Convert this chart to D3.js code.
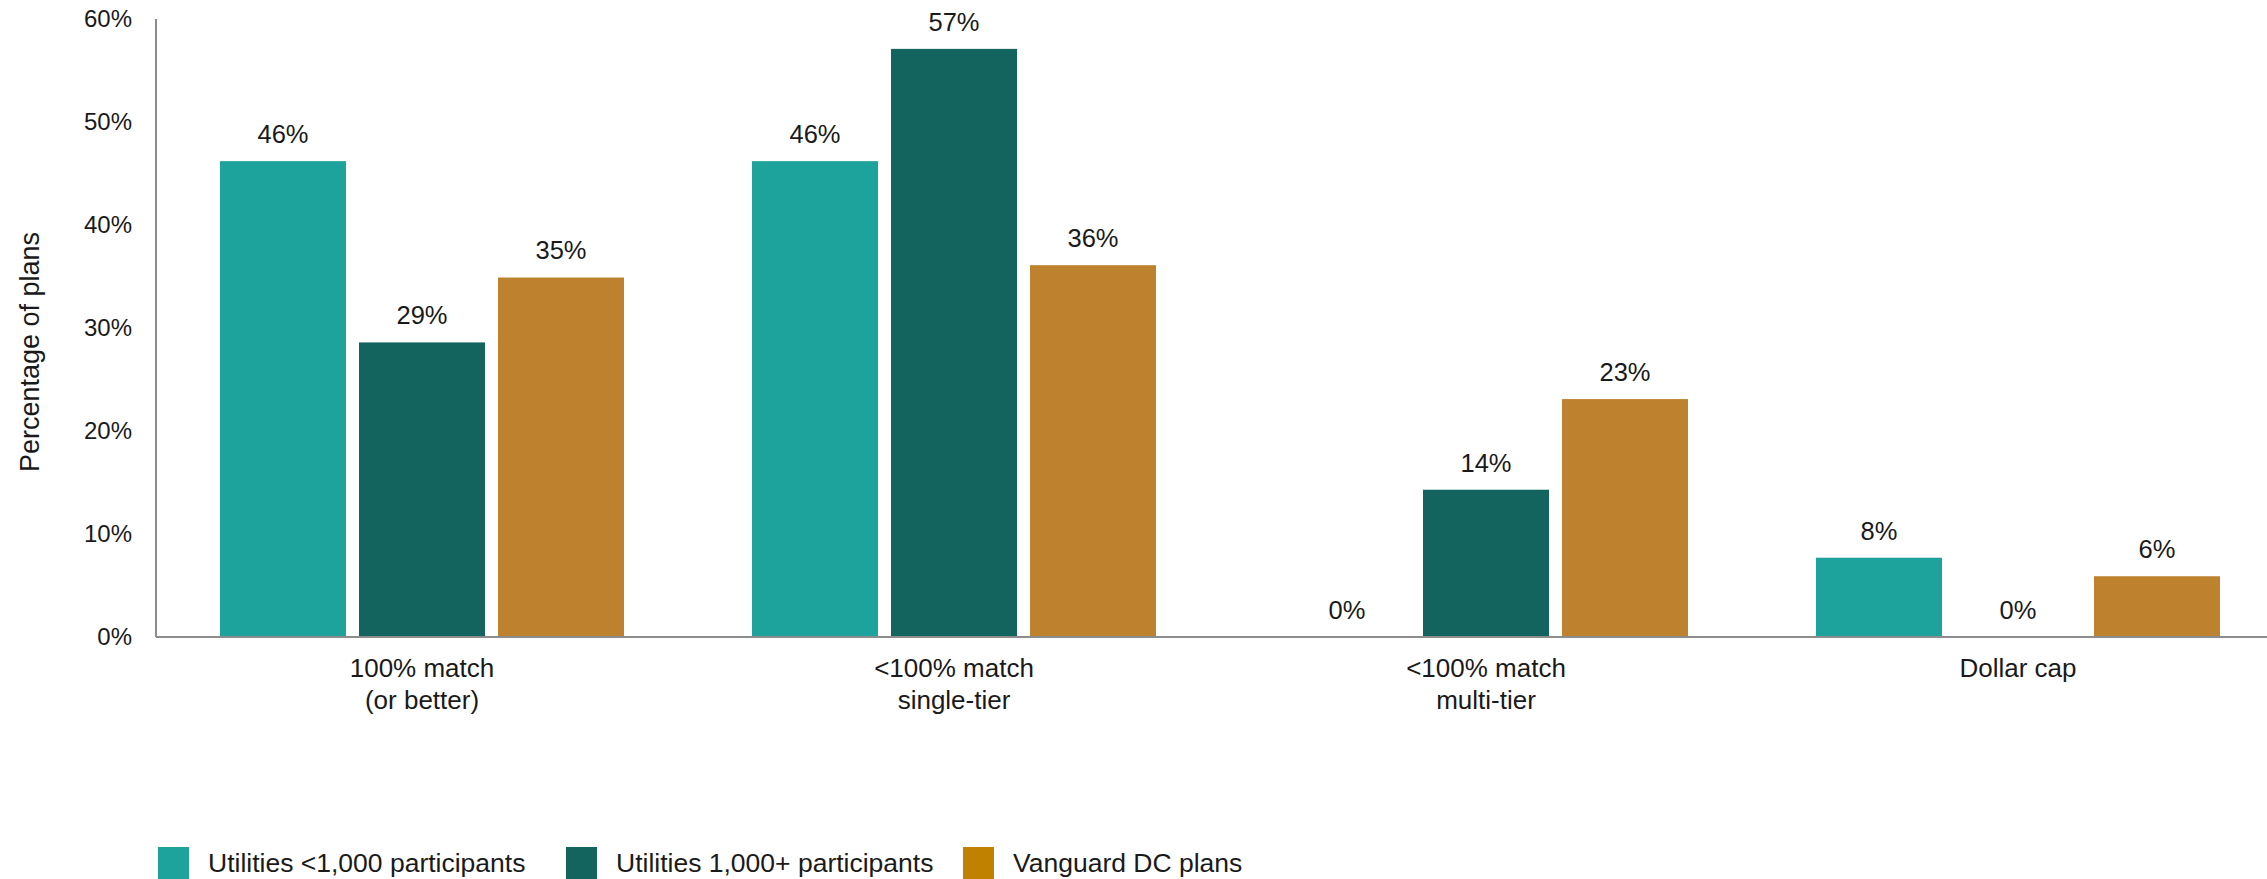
<!DOCTYPE html>
<html>
<head>
<meta charset="utf-8">
<script src="https://cdn.jsdelivr.net/npm/d3@7"></script>
<style>
  body { margin: 0; background: #fff; }
  text { font-family: "Liberation Sans", Arial, sans-serif; fill: #1a1a1a; }
</style>
</head>
<body>
<div id="chart"></div>
<script>
const categories = [["100% match", "(or better)"], ["<100% match", "single-tier"], ["<100% match", "multi-tier"], ["Dollar cap"]];
const seriesNames = ["Utilities <1,000 participants", "Utilities 1,000+ participants", "Vanguard DC plans"];
const smallUtilities = [46.2, 46.2, 0, 7.7];
const largeUtilities = [28.6, 57.1, 14.3, 0];
const vanguardPlans = [34.9, 36.1, 23.1, 5.9];
const yTicks = [0, 10, 20, 30, 40, 50, 60];

const barColors = ["#1da39b", "#13635f", "#be822f"];
const legendColors = ["#1da39b", "#13635f", "#c08000"];

const width = 2267;
const height = 879;
const seriesValues = [smallUtilities, largeUtilities, vanguardPlans];

const svg = d3.select("#chart").append("svg")
  .attr("width", width)
  .attr("height", height);

const x0 = d3.scaleBand()
  .domain(d3.range(categories.length))
  .range([156, 2284]);

const x1 = d3.scaleBand()
  .domain(d3.range(seriesNames.length))
  .range([64, 468])
  .paddingInner(0.0935);

const y = d3.scaleLinear()
  .domain([0, 60])
  .range([637, 19]);

// y tick labels
svg.append("g")
  .selectAll("text")
  .data(yTicks)
  .join("text")
  .attr("x", 132)
  .attr("y", d => y(d))
  .attr("dy", "0.35em")
  .attr("text-anchor", "end")
  .attr("font-size", 24)
  .text(d => d + "%");

svg.append("text")
  .attr("transform", "translate(30, 352) rotate(-90)")
  .attr("text-anchor", "middle")
  .attr("dy", "0.35em")
  .attr("font-size", 27)
  .text("Percentage of plans");

const groups = svg.append("g")
  .selectAll("g")
  .data(categories.map((c, i) => i))
  .join("g")
  .attr("transform", i => `translate(${x0(i)}, 0)`);

const cells = groups.selectAll("g.cell")
  .data(i => seriesValues.map((vals, s) => ({ s: s, v: vals[i] })))
  .join("g")
  .attr("class", "cell");

cells.append("rect")
  .attr("x", d => x1(d.s))
  .attr("width", x1.bandwidth())
  .attr("y", d => y(d.v))
  .attr("height", d => y(0) - y(d.v))
  .attr("fill", d => barColors[d.s]);

cells.append("text")
  .attr("x", d => x1(d.s) + x1.bandwidth() / 2)
  .attr("y", d => y(d.v) - 27)
  .attr("dy", "0.35em")
  .attr("text-anchor", "middle")
  .attr("font-size", 25.5)
  .text(d => Math.round(d.v) + "%");

// category labels
groups.append("text")
  .attr("x", x0.bandwidth() / 2)
  .attr("y", 668)
  .attr("text-anchor", "middle")
  .attr("font-size", 26)
  .selectAll("tspan")
  .data(i => categories[i])
  .join("tspan")
  .attr("x", x0.bandwidth() / 2)
  .attr("dy", (d, k) => k === 0 ? "0.35em" : 32)
  .text(d => d);

// axes lines
svg.append("line")
  .attr("x1", 156).attr("x2", width)
  .attr("y1", y(0)).attr("y2", y(0))
  .attr("stroke", "#8c8c8c").attr("stroke-width", 2);

svg.append("line")
  .attr("x1", 156).attr("x2", 156)
  .attr("y1", y(60)).attr("y2", y(0))
  .attr("stroke", "#8c8c8c").attr("stroke-width", 2);

// legend
const legendX = [158, 566, 963];
const legend = svg.append("g")
  .selectAll("g")
  .data(seriesNames)
  .join("g")
  .attr("transform", (d, i) => `translate(${legendX[i]}, 847)`);

legend.append("rect")
  .attr("width", 31)
  .attr("height", 32)
  .attr("fill", (d, i) => legendColors[i]);

legend.append("text")
  .attr("x", 50)
  .attr("y", 16)
  .attr("dy", "0.35em")
  .attr("font-size", 26.5)
  .text(d => d);
</script>
</body>
</html>
